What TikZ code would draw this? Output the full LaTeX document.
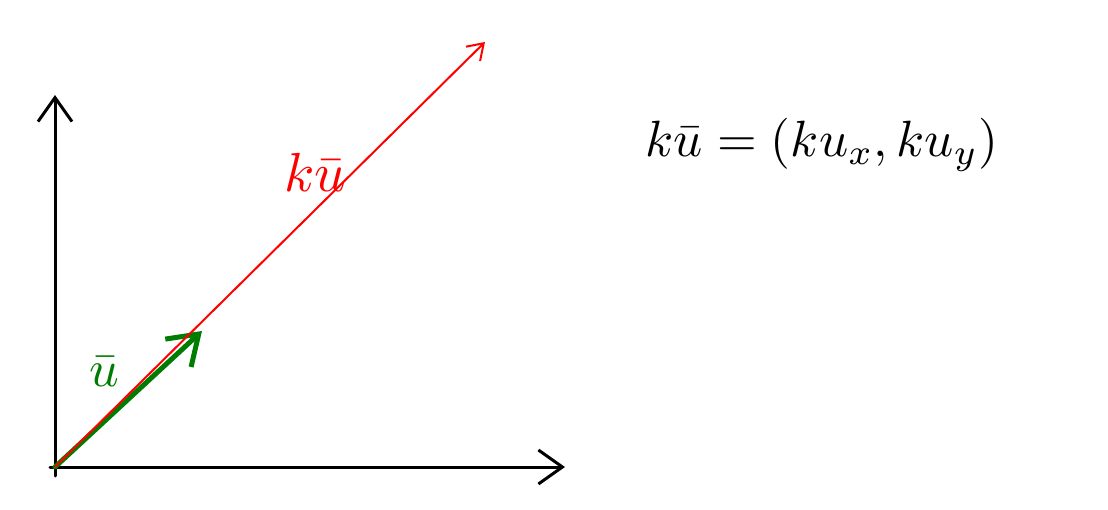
\documentclass[tikz,border=0pt]{standalone}
\usetikzlibrary{arrows.meta}
\definecolor{pengreen}{RGB}{0,125,0}
\begin{document}
\begin{tikzpicture}[x=1pt,y=-1pt,
  axis/.style={black,line width=3pt,line cap=round,-{Straight Barb[length=24pt,width=34pt,line width=3pt]}},
  redvec/.style={red,line width=2pt,line cap=round,-{Straight Barb[length=15pt,width=20pt,line width=2pt]}},
  greenvec/.style={pengreen,line width=5pt,line cap=round,-{Straight Barb[length=28pt,width=38pt,line width=5pt]}},
  lbl/.style={inner sep=0pt}]
\useasboundingbox (0,0) rectangle (1108,510);
\coordinate (O) at (55,467);
\coordinate (Ybot) at (55,476);
\coordinate (Ytop) at (55,95);
\coordinate (Xbeg) at (50,467);
\coordinate (Xend) at (565,467);
\coordinate (Kend) at (485,42);
\coordinate (Uend) at (202,331);
\draw[axis] (Ybot) -- (Ytop);
\draw[axis] (Xbeg) -- (Xend);
\draw[greenvec] (O) -- (Uend);
\draw[redvec] (O) -- (Kend);
\node[lbl,pengreen,scale=5.2] (ulab) at (104,372) {$\bar{u}$};
\node[lbl,red,scale=5.5] (kulab) at (315,172) {$k\bar{u}$};
\node[lbl,black,scale=5.1] (formula) at (822,145) {$k\bar{u} = (ku_x, ku_y)$};
\end{tikzpicture}
\end{document}
